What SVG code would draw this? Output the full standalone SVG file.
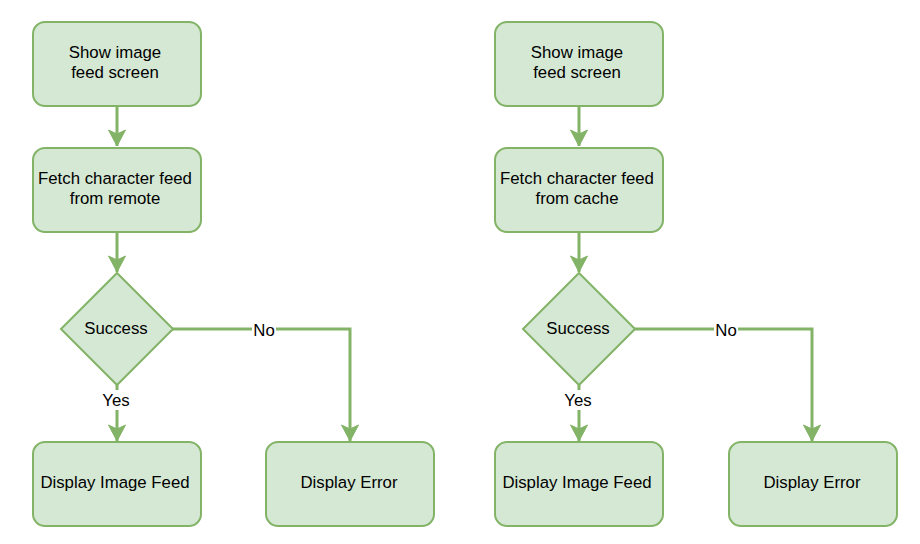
<svg xmlns="http://www.w3.org/2000/svg" width="920" height="544" viewBox="0 0 920 544">
<style>
.box{fill:#d5e8d4;stroke:#82b366;stroke-width:2}
.t{font-family:"Liberation Sans",Arial,sans-serif;font-size:16.8px;fill:#000;text-anchor:middle}
.ln{fill:none;stroke:#82b366;stroke-width:3}
.lbl{fill:#fff}
</style>
<defs>
<marker id="ah" viewBox="0 0 18 18" refX="17" refY="9" markerWidth="18" markerHeight="18" markerUnits="userSpaceOnUse" orient="auto">
<path d="M17 9 L1 0.5 L5 9 L1 17.5 Z" fill="#82b366" stroke="#82b366" stroke-width="1"/>
</marker>
</defs>
<g id="connectors">
<path class="ln" d="M117 106 V146" marker-end="url(#ah)"/>
<path class="ln" d="M117 232 V272" marker-end="url(#ah)"/>
<path class="ln" d="M117 385 V441" marker-end="url(#ah)"/>
<path class="ln" d="M172 329 H350 V441" marker-end="url(#ah)"/>
<rect class="lbl" x="101" y="390" width="30" height="20"/>
<text class="t" x="116" y="406">Yes</text>
<rect class="lbl" x="252" y="320" width="24" height="20"/>
<text class="t" x="264" y="336">No</text>
<path class="ln" d="M579 106 V146" marker-end="url(#ah)"/>
<path class="ln" d="M579 232 V272" marker-end="url(#ah)"/>
<path class="ln" d="M579 385 V441" marker-end="url(#ah)"/>
<path class="ln" d="M634 329 H812 V441" marker-end="url(#ah)"/>
<rect class="lbl" x="563" y="390" width="30" height="20"/>
<text class="t" x="578" y="406">Yes</text>
<rect class="lbl" x="714" y="320" width="24" height="20"/>
<text class="t" x="726" y="336">No</text>
</g>
<g id="l-show">
<rect class="box" x="33" y="22" width="168" height="84" rx="12"/>
<text class="t" x="115" y="58">Show image</text>
<text class="t" x="115" y="78">feed screen</text>
</g>
<g id="l-fetch">
<rect class="box" x="33" y="148" width="168" height="84" rx="12"/>
<text class="t" x="115" y="184">Fetch character feed</text>
<text class="t" x="115" y="204">from remote</text>
</g>
<g id="l-success">
<path class="box" d="M117 273 L173 329 L117 385 L61 329 Z"/>
<text class="t" x="116" y="334">Success</text>
</g>
<g id="l-display">
<rect class="box" x="33" y="442" width="168" height="84" rx="12"/>
<text class="t" x="115" y="488">Display Image Feed</text>
</g>
<g id="l-error">
<rect class="box" x="266" y="442" width="168" height="84" rx="12"/>
<text class="t" x="349" y="488">Display Error</text>
</g>
<g id="r-show">
<rect class="box" x="495" y="22" width="168" height="84" rx="12"/>
<text class="t" x="577" y="58">Show image</text>
<text class="t" x="577" y="78">feed screen</text>
</g>
<g id="r-fetch">
<rect class="box" x="495" y="148" width="168" height="84" rx="12"/>
<text class="t" x="577" y="184">Fetch character feed</text>
<text class="t" x="577" y="204">from cache</text>
</g>
<g id="r-success">
<path class="box" d="M579 273 L635 329 L579 385 L523 329 Z"/>
<text class="t" x="578" y="334">Success</text>
</g>
<g id="r-display">
<rect class="box" x="495" y="442" width="168" height="84" rx="12"/>
<text class="t" x="577" y="488">Display Image Feed</text>
</g>
<g id="r-error">
<rect class="box" x="729" y="442" width="168" height="84" rx="12"/>
<text class="t" x="812" y="488">Display Error</text>
</g>
</svg>
